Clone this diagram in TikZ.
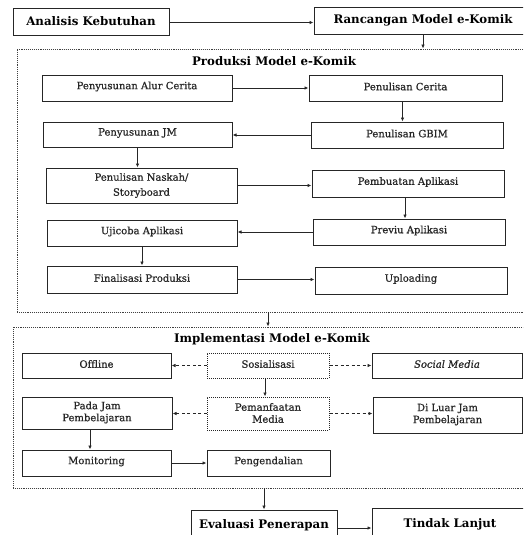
\documentclass[tikz,border=0pt]{standalone}
\usepackage{fontspec}
\setmainfont{DejaVu Serif}
\newfontfamily\medserif[FakeBold=0.7]{DejaVu Serif}
\usetikzlibrary{arrows.meta,calc}
\begin{document}
\begin{tikzpicture}[x=1pt,y=-1pt,
  box/.style={draw=black!85,line width=1pt,inner sep=0pt},
  dbox/.style={box,densely dotted},
  txt/.style={inner sep=0pt,align=center,font=\medserif\fontsize{10}{13}\selectfont,text=black!85},
  htxt/.style={txt,font=\bfseries\fontsize{11.8}{13}\selectfont,text=black},
  frame/.style={draw=black!75,line width=0.9pt,densely dotted},
  arr/.style={draw=black!85,line width=0.9pt,-{Latex[length=4pt,width=3.5pt]}},
  darr/.style={arr,dash pattern=on 3pt off 2.5pt},
  ttl/.style={font=\bfseries\fontsize{11.8}{13}\selectfont,inner sep=0pt}]
\useasboundingbox (0,0) rectangle (523,535);
\clip (0,0) rectangle (523,535);
% #1 box style, #2 name, #3-#6 left right top bottom, #7 text style, #8 text
\newcommand{\bx}[8]{\node[#1,minimum width=#4-#3,minimum height=#6-#5] (#2) at ({(#3+#4)/2},{(#5+#6)/2}) {};
  \node[#7] (#2-t) at ([yshift=1.5pt]#2.center) {#8};}
% top
\bx{box}{ana}{13}{169}{9}{36}{htxt}{Analisis Kebutuhan}
\bx{box}{ran}{314}{532}{8}{35}{htxt}{Rancangan Model e-Komik}
\draw[arr] (ana.east) -- (ana.east -| ran.west);
% frame 1
\node[frame,minimum width=530,minimum height=263,inner sep=0pt] (f1) at (282,180.5) {};
\draw[arr] (ran.south) -- (ran.south |- f1.north);
\node[ttl] (t1) at (274,61) {Produksi Model e-Komik};
\bx{box}{alur}{42}{232}{75}{101}{txt}{Penyusunan Alur Cerita}
\bx{box}{cer}{309}{502}{75}{101}{txt}{Penulisan Cerita}
\bx{box}{gbim}{311}{503}{122}{148}{txt}{Penulisan GBIM}
\bx{box}{jm}{43}{232}{122}{147}{txt}{Penyusunan JM}
\bx{box}{nas}{46}{237}{168}{203}{txt,font=\medserif\fontsize{10}{15}\selectfont,yshift=-1.5pt}{Penulisan Naskah/\\Storyboard}
\bx{box}{pemb}{312}{504}{170}{197}{txt}{Pembuatan Aplikasi}
\bx{box}{prev}{313}{505}{219}{245}{txt}{Previu Aplikasi}
\bx{box}{uji}{47}{237}{220}{246}{txt}{Ujicoba Aplikasi}
\bx{box}{fin}{47}{237}{266}{293}{txt}{Finalisasi Produksi}
\bx{box}{upl}{315}{507}{267}{294}{txt}{Uploading}
\draw[arr] (alur.east) -- (alur.east -| cer.west);
\draw[arr] ([xshift=-3pt]cer.south) -- ([xshift=-3pt]cer.south |- gbim.north);
\draw[arr] (gbim.west) -- (gbim.west -| jm.east);
\draw[arr] (jm.south) -- (jm.south |- nas.north);
\draw[arr] (nas.east) -- (nas.east -| pemb.west);
\draw[arr] ([xshift=-3pt]pemb.south) -- ([xshift=-3pt]pemb.south |- prev.north);
\draw[arr] (prev.west) -- (prev.west -| uji.east);
\draw[arr] (uji.south) -- (uji.south |- fin.north);
\draw[arr] (fin.east) -- (fin.east -| upl.west);
% frame 2
\node[frame,minimum width=535,minimum height=161,inner sep=0pt] (f2) at (280.5,407.5) {};
\coordinate (c12) at (268,0);
\draw[arr] (c12 |- f1.south) -- (c12 |- f2.north);
\node[ttl] (t2) at (272,339) {Implementasi Model e-Komik};
\bx{box}{off}{22}{171}{353}{378}{txt}{Offline}
\bx{dbox}{sos}{207}{329}{353}{378}{txt}{Sosialisasi}
\bx{box}{soc}{372}{522}{353}{378}{txt}{\itshape Social Media}
\bx{box}{pada}{22}{172}{397}{429}{txt,font=\medserif\fontsize{10}{12}\selectfont,yshift=-1pt}{Pada Jam\\Pembelajaran}
\bx{dbox}{pem}{207}{329}{397}{430}{txt,font=\medserif\fontsize{10}{12}\selectfont,yshift=-1pt}{Pemanfaatan\\Media}
\bx{box}{luar}{373}{522}{397}{433}{txt,font=\medserif\fontsize{10}{12}\selectfont,yshift=-1pt}{Di Luar Jam\\Pembelajaran}
\bx{box}{mon}{22}{171}{450}{476}{txt}{Monitoring}
\bx{box}{peng}{207}{330}{450}{476}{txt}{Pengendalian}
\draw[darr] (sos.west) -- (sos.west -| off.east);
\draw[darr] (sos.east) -- (sos.east -| soc.west);
\draw[arr] ([xshift=-3pt]sos.south) -- ([xshift=-3pt]sos.south |- pem.north);
\draw[darr] (pem.west) -- (pem.west -| pada.east);
\draw[darr] (pem.east) -- (pem.east -| luar.west);
\draw[arr] ([xshift=-7pt]pada.south) -- ([xshift=-7pt]pada.south |- mon.north);
\draw[arr] (mon.east) -- (mon.east -| peng.west);
% bottom
\bx{box}{eva}{191}{337}{510}{546}{htxt,yshift=1.5pt}{Evaluasi Penerapan}
\bx{box}{tin}{372}{528}{508}{546}{htxt,yshift=1.5pt}{Tindak Lanjut}
\coordinate (c56) at (0,528);
\draw[arr] (eva.east |- c56) -- (tin.west |- c56);
\draw[arr] (eva.north |- f2.south) -- (eva.north);
\end{tikzpicture}
\end{document}
